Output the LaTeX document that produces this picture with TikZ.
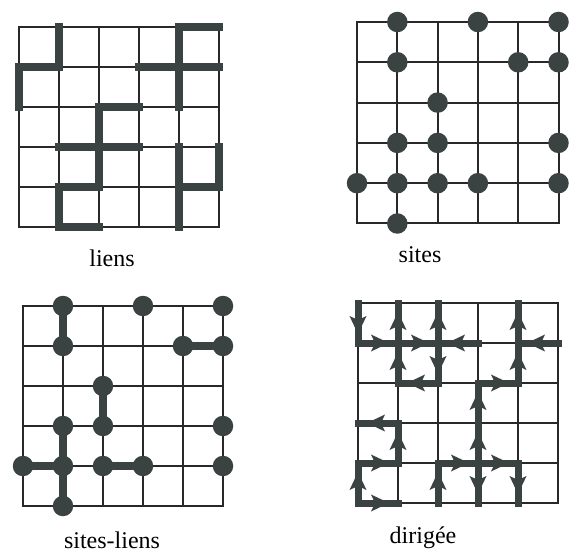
\documentclass[tikz,border=0pt]{standalone}
\usepackage{fontspec}
\setmainfont{Liberation Serif}
\usetikzlibrary{decorations.markings}
\definecolor{gridc}{RGB}{40,40,40}
\definecolor{bondc}{RGB}{58,66,66}
\newcommand\lattice[4]{%
  \foreach \i in {0,...,5}{\foreach \j in {0,...,5}{\coordinate (#1-\i-\j) at ({#2+\i*#4},{#3+\j*#4});}}
  \foreach \k in {0,...,5}{\draw[gridline] (#1-\k-0) -- (#1-\k-5); \draw[gridline] (#1-0-\k) -- (#1-5-\k);}
}
\begin{document}
\begin{tikzpicture}[x=1pt,y=-1pt,
  gridline/.style={draw=gridc,line width=2pt,line cap=rect},
  bond/.style={draw=bondc,line width=7.5pt,line cap=rect},
  site/.style={circle,fill=bondc,minimum size=20.5pt,inner sep=0pt},
  dbond/.style={draw=bondc,line width=7pt,line cap=rect,postaction={decorate},
    decoration={markings,mark=at position 0.55 with {\fill[bondc] (9pt,0pt) -- (-9pt,8.5pt) -- (-5pt,0pt) -- (-9pt,-8.5pt) -- cycle;}}},
  lab/.style={font=\fontsize{24}{28}\selectfont,anchor=base,inner sep=0pt}]
\useasboundingbox (0,0) rectangle (570,553);
\fill[white] (0,0) rectangle (570,553);

% ---- liens ----
\lattice{A}{19}{27}{40}
\foreach \a/\b in {1-0/1-1, 4-0/5-0, 4-0/4-2, 3-1/5-1, 0-1/1-1, 0-1/0-2, 2-2/3-2, 2-2/2-4,
  1-3/3-3, 1-4/1-5, 1-4/2-4, 1-5/2-5, 4-3/4-5, 5-3/5-4, 4-4/5-4}
  \draw[bond] (A-\a) -- (A-\b);

% ---- sites ----
\lattice{B}{357}{22}{40.3}
\foreach \p in {1-0,3-0,5-0,1-1,4-1,5-1,2-2,1-3,2-3,5-3,0-4,1-4,2-4,3-4,5-4,1-5}
  \node[site] (Bs-\p) at (B-\p) {};

% ---- sites-liens ----
\lattice{C}{23}{306}{40}
\foreach \a/\b in {1-0/1-1, 4-1/5-1, 2-2/2-3, 1-3/1-5, 0-4/1-4, 2-4/3-4}
  \draw[bond] (C-\a) -- (C-\b);
\foreach \p in {1-0,3-0,5-0,1-1,4-1,5-1,2-2,1-3,2-3,5-3,0-4,1-4,2-4,3-4,5-4,1-5}
  \node[site] (Cs-\p) at (C-\p) {};

% ---- dirigee ----
\lattice{D}{358}{303}{40}
\foreach \a/\b in {0-0/0-1, 0-1/1-1, 1-1/1-0, 1-1/2-1, 2-1/2-0, 3-1/2-1, 1-2/1-1, 2-1/2-2,
  2-2/1-2, 4-1/4-0, 5-1/4-1, 4-2/4-1, 3-2/4-2, 3-3/3-2, 3-4/3-3, 2-4/3-4, 3-4/4-4,
  3-4/3-5, 4-4/4-5, 2-5/2-4, 1-3/0-3, 1-4/1-3, 0-4/1-4, 0-5/0-4, 0-5/1-5}
  \draw[dbond] (D-\a) -- (D-\b);

% ---- labels ----
\node[lab] (l1) at (112,266) {liens};
\node[lab] (l2) at (420,262) {sites};
\node[lab] (l3) at (112,548) {sites-liens};
\node[lab] (l4) at (423,543) {dirigée};
\end{tikzpicture}
\end{document}
